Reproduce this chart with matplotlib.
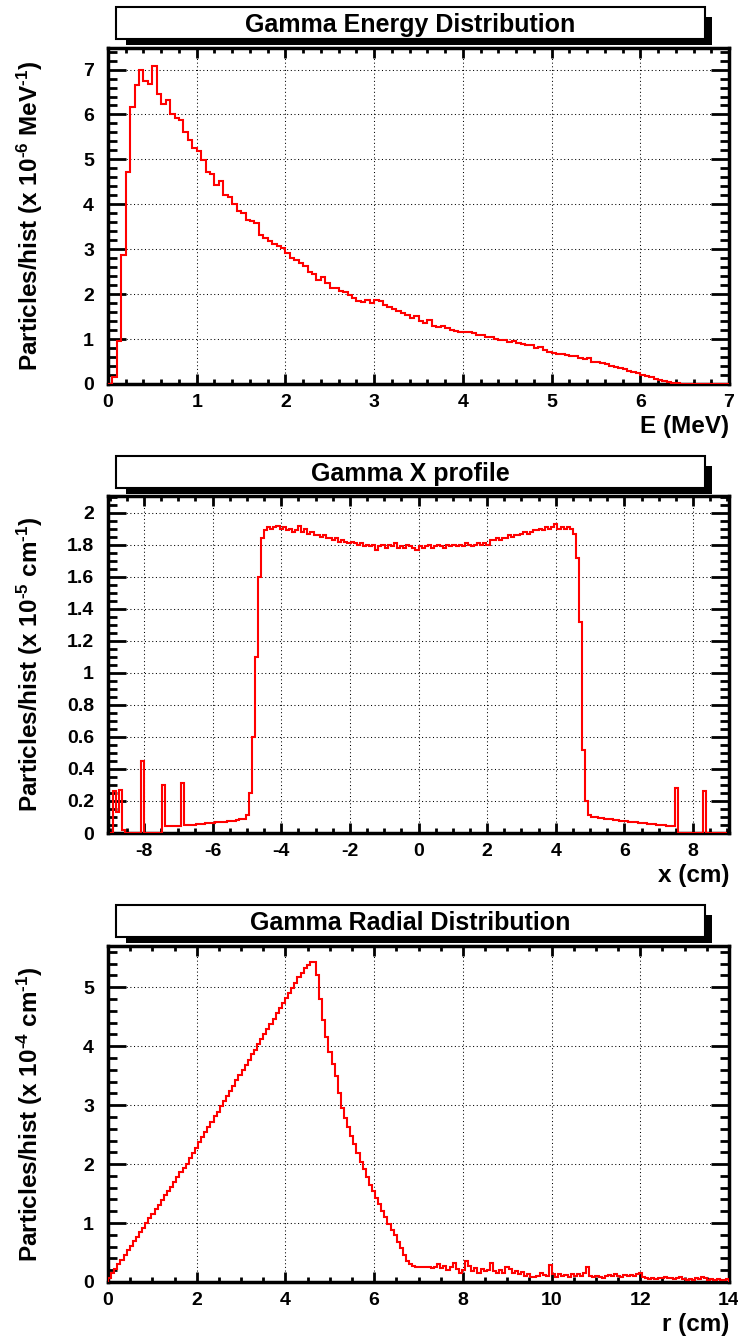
import numpy as np
import matplotlib
matplotlib.use("Agg")
import matplotlib.pyplot as plt
from matplotlib.patches import Rectangle
from matplotlib.ticker import MultipleLocator, FuncFormatter

# ---------------------------------------------------------------- data
energy_edges = np.linspace(0.0, 7.0, 141)          # MeV
energy_counts = [
    0.00, 0.16, 0.95, 2.87, 4.71, 6.17, 6.65, 6.98, 6.74, 6.67,
    7.07, 6.46, 6.24, 6.33, 6.02, 5.92, 5.87, 5.60, 5.44, 5.25,
    5.18, 4.98, 4.71, 4.68, 4.44, 4.51, 4.21, 4.16, 4.01, 3.86,
    3.80, 3.64, 3.62, 3.58, 3.32, 3.26, 3.18, 3.12, 3.07, 3.02,
    2.91, 2.80, 2.75, 2.70, 2.62, 2.50, 2.44, 2.31, 2.39, 2.25,
    2.14, 2.14, 2.07, 2.04, 1.98, 1.91, 1.85, 1.83, 1.87, 1.80,
    1.86, 1.84, 1.76, 1.72, 1.68, 1.62, 1.58, 1.54, 1.46, 1.52,
    1.40, 1.36, 1.42, 1.30, 1.28, 1.30, 1.25, 1.21, 1.19, 1.16,
    1.15, 1.16, 1.13, 1.08, 1.10, 1.04, 1.04, 1.00, 0.99, 0.97,
    0.94, 0.96, 0.91, 0.89, 0.87, 0.86, 0.80, 0.82, 0.76, 0.72,
    0.68, 0.67, 0.66, 0.64, 0.63, 0.62, 0.58, 0.55, 0.57, 0.50,
    0.48, 0.47, 0.44, 0.41, 0.38, 0.35, 0.33, 0.30, 0.27, 0.24,
    0.21, 0.18, 0.15, 0.12, 0.10, 0.07, 0.05, 0.03, 0.02, 0.01,
    0.01, 0.01, 0.01, 0.01, 0.01, 0.01, 0.01, 0.01, 0.01, 0.01,
]

xprof_edges = np.linspace(-9.0, 9.0, 201)          # cm
xprof_counts = [
    0.00, 0.26, 0.13, 0.27, 0.02, 0.00, 0.00, 0.00, 0.00, 0.00,
    0.45, 0.00, 0.00, 0.00, 0.00, 0.00, 0.00, 0.30, 0.042, 0.043,
    0.044, 0.045, 0.046, 0.31, 0.048, 0.050, 0.052, 0.053, 0.055, 0.057,
    0.058, 0.060, 0.062, 0.064, 0.066, 0.067, 0.069, 0.071, 0.073, 0.076,
    0.078, 0.081, 0.085, 0.090, 0.11, 0.25, 0.60, 1.10, 1.60, 1.84,
    1.89, 1.91, 1.90, 1.91, 1.92, 1.90, 1.91, 1.89, 1.90, 1.88,
    1.89, 1.92, 1.88, 1.90, 1.87, 1.88, 1.86, 1.86, 1.85, 1.86,
    1.84, 1.84, 1.83, 1.84, 1.82, 1.83, 1.82, 1.81, 1.82, 1.81,
    1.80, 1.81, 1.79, 1.80, 1.79, 1.80, 1.77, 1.79, 1.80, 1.78,
    1.80, 1.79, 1.81, 1.78, 1.79, 1.78, 1.80, 1.79, 1.78, 1.77,
    1.79, 1.78, 1.79, 1.80, 1.78, 1.79, 1.80, 1.79, 1.78, 1.80,
    1.79, 1.80, 1.79, 1.80, 1.79, 1.81, 1.80, 1.79, 1.80, 1.81,
    1.80, 1.81, 1.80, 1.83, 1.83, 1.84, 1.83, 1.84, 1.84, 1.86,
    1.85, 1.86, 1.86, 1.87, 1.88, 1.87, 1.88, 1.89, 1.89, 1.90,
    1.89, 1.91, 1.90, 1.91, 1.93, 1.90, 1.91, 1.90, 1.91, 1.90,
    1.87, 1.72, 1.32, 0.52, 0.20, 0.11, 0.100, 0.098, 0.095, 0.093,
    0.090, 0.087, 0.085, 0.082, 0.080, 0.078, 0.075, 0.072, 0.070, 0.068,
    0.066, 0.064, 0.062, 0.060, 0.058, 0.056, 0.054, 0.052, 0.050, 0.048,
    0.046, 0.045, 0.042, 0.28, 0.00, 0.00, 0.00, 0.00, 0.00, 0.00,
    0.00, 0.00, 0.26, 0.00, 0.00, 0.00, 0.00, 0.00, 0.00, 0.00,
]

radial_edges = np.linspace(0.0, 14.0, 201)         # cm
radial_counts = [
    0.07, 0.15, 0.22, 0.30, 0.38, 0.46, 0.54, 0.61, 0.69, 0.77,
    0.85, 0.92, 1.00, 1.08, 1.16, 1.23, 1.31, 1.39, 1.47, 1.55,
    1.62, 1.70, 1.78, 1.86, 1.93, 2.01, 2.11, 2.19, 2.28, 2.37,
    2.46, 2.54, 2.63, 2.72, 2.81, 2.89, 2.98, 3.07, 3.16, 3.24,
    3.33, 3.42, 3.51, 3.59, 3.68, 3.77, 3.86, 3.94, 4.03, 4.12,
    4.21, 4.29, 4.38, 4.47, 4.56, 4.64, 4.73, 4.82, 4.91, 4.99,
    5.08, 5.17, 5.25, 5.32, 5.38, 5.43, 5.43, 5.21, 4.80, 4.45,
    4.15, 3.90, 3.70, 3.50, 3.20, 2.95, 2.78, 2.63, 2.48, 2.34,
    2.19, 2.04, 1.91, 1.78, 1.65, 1.54, 1.43, 1.32, 1.21, 1.10,
    0.99, 0.89, 0.79, 0.68, 0.57, 0.46, 0.36, 0.30, 0.27, 0.26,
    0.26, 0.25, 0.25, 0.25, 0.24, 0.25, 0.31, 0.24, 0.27, 0.21,
    0.25, 0.33, 0.22, 0.15, 0.20, 0.35, 0.27, 0.19, 0.24, 0.16,
    0.22, 0.18, 0.21, 0.33, 0.19, 0.16, 0.20, 0.15, 0.25, 0.22,
    0.16, 0.18, 0.13, 0.17, 0.11, 0.14, 0.09, 0.08, 0.10, 0.16,
    0.12, 0.10, 0.28, 0.14, 0.09, 0.13, 0.10, 0.12, 0.09, 0.14,
    0.11, 0.13, 0.10, 0.15, 0.25, 0.10, 0.08, 0.10, 0.09, 0.07,
    0.11, 0.12, 0.10, 0.13, 0.11, 0.08, 0.12, 0.11, 0.12, 0.10,
    0.13, 0.15, 0.08, 0.06, 0.05, 0.06, 0.05, 0.07, 0.06, 0.09,
    0.07, 0.06, 0.05, 0.06, 0.08, 0.05, 0.04, 0.05, 0.04, 0.06,
    0.05, 0.09, 0.06, 0.04, 0.05, 0.04, 0.05, 0.04, 0.04, 0.05,
]

titles = ["Gamma Energy Distribution", "Gamma X profile", "Gamma Radial Distribution"]
xlabels = ["E (MeV)", "x (cm)", "r (cm)"]
ylabels = [
    r"Particles/hist (x 10$^{\text{-}6}$ MeV$^{\text{-}1}$)",
    r"Particles/hist (x 10$^{\text{-}5}$ cm$^{\text{-}1}$)",
    r"Particles/hist (x 10$^{\text{-}4}$ cm$^{\text{-}1}$)",
]

# ---------------------------------------------------------------- style
plt.rcParams["font.family"] = ["Liberation Sans", "DejaVu Sans"]
plt.rcParams["font.weight"] = "bold"
plt.rcParams["mathtext.fontset"] = "custom"
plt.rcParams["mathtext.rm"] = "Liberation Sans:bold"
plt.rcParams["mathtext.bf"] = "Liberation Sans:bold"
plt.rcParams["mathtext.it"] = "Liberation Sans:bold"
plt.rcParams["mathtext.sf"] = "Liberation Sans:bold"
plt.rcParams["mathtext.default"] = "rm"
plt.rcParams["axes.unicode_minus"] = False

W, H = 738, 1339
fig = plt.figure(figsize=(W / 100, H / 100), dpi=100)
fig.patch.set_facecolor("white")

AX_LEFT, AX_RIGHT = 108, 729
panels = [
    dict(top=48, bottom=384, box_top=7, edges=energy_edges, vals=energy_counts,
         xlim=(0, 7), ylim=(0, 7.48), xmaj=1, xmin=0.2, ymaj=1, ymin=0.2),
    dict(top=496, bottom=833, box_top=456, edges=xprof_edges, vals=xprof_counts,
         xlim=(-9.05, 9.05), ylim=(0, 2.105), xmaj=2, xmin=0.5, ymaj=0.2, ymin=0.05),
    dict(top=946, bottom=1282, box_top=905, edges=radial_edges, vals=radial_counts,
         xlim=(0, 14), ylim=(0, 5.70), xmaj=2, xmin=0.5, ymaj=1, ymin=0.2),
]

fmt = FuncFormatter(lambda v, p: "0" if abs(v) < 1e-9 else f"{v:g}")


def px_rect(x0, y0, x1, y1, **kw):
    """Rectangle given in figure pixel coordinates (origin at top-left)."""
    return Rectangle((x0 / W, 1 - y1 / H), (x1 - x0) / W, (y1 - y0) / H,
                     transform=fig.transFigure, **kw)


for i, p in enumerate(panels):
    ax = fig.add_axes([AX_LEFT / W, 1 - p["bottom"] / H,
                       (AX_RIGHT - AX_LEFT) / W, (p["bottom"] - p["top"]) / H])
    ax.stairs(p["vals"], p["edges"], color="#ff0000", linewidth=1.5, zorder=3)
    ax.set_xlim(*p["xlim"])
    ax.set_ylim(*p["ylim"])

    ax.xaxis.set_major_locator(MultipleLocator(p["xmaj"]))
    ax.xaxis.set_minor_locator(MultipleLocator(p["xmin"]))
    ax.yaxis.set_major_locator(MultipleLocator(p["ymaj"]))
    ax.yaxis.set_minor_locator(MultipleLocator(p["ymin"]))
    ax.xaxis.set_major_formatter(fmt)
    ax.yaxis.set_major_formatter(fmt)

    ax.grid(which="major", color="black", linestyle=(0, (1, 2.5)), linewidth=0.75)
    ax.tick_params(which="both", direction="in", top=True, right=True,
                   width=2.0, colors="black")
    ax.tick_params(axis="x", which="major", length=7.5, pad=7, labelsize=14)
    ax.tick_params(axis="x", which="minor", length=3.7)
    ax.tick_params(axis="y", which="major", length=13, pad=10, labelsize=14)
    ax.tick_params(axis="y", which="minor", length=6.5)
    for s in ax.spines.values():
        s.set_linewidth(2.5)

    ax.set_xlabel(xlabels[i], loc="right", fontsize=17.5, fontweight="bold", labelpad=3)
    ax.set_ylabel(ylabels[i], fontsize=17.5, fontweight="bold", va="center")
    ax.yaxis.set_label_coords((30 - AX_LEFT) / (AX_RIGHT - AX_LEFT), 0.5)

    # title box with drop shadow
    bt = p["box_top"]
    fig.add_artist(px_rect(126, bt + 10, 712, bt + 38, facecolor="black",
                           edgecolor="none", zorder=5))
    fig.add_artist(px_rect(116, bt, 705, bt + 32, facecolor="white",
                           edgecolor="black", linewidth=1.5, zorder=6))
    fig.text((116 + 705) / 2 / W, 1 - (bt + 24.8) / H, titles[i],
             ha="center", va="baseline", fontsize=18, fontweight="bold", zorder=7)

fig.savefig("out.png", dpi=100, facecolor="white")
